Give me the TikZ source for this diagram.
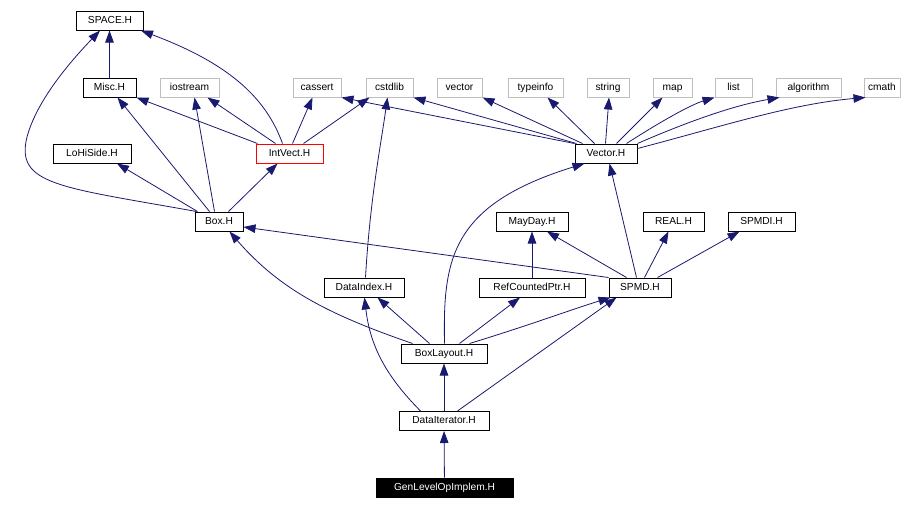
\documentclass[tikz,border=0pt]{standalone}
\usepackage{fontspec}
\setmainfont{Liberation Sans}
\usetikzlibrary{arrows.meta}
\definecolor{edgeblue}{HTML}{191970}
\definecolor{sysgray}{HTML}{BFBFBF}
\tikzset{
  hdr/.style={draw=black, line width=1pt, rectangle, inner sep=0pt, minimum height=19pt,
    font=\fontsize{10.2}{12}\selectfont, text height=7.5pt, text depth=2pt},
  sys/.style={hdr, draw=sysgray},
  cur/.style={hdr, draw=red},
  root/.style={hdr, fill=black, text=white},
  dep/.style={draw=edgeblue, line width=0.8pt, -{Triangle[length=12pt,width=8.5pt]}}
}
\begin{document}
\begin{tikzpicture}[x=1pt,y=-1pt]
\useasboundingbox (0,0) rectangle (912,509);
% nodes
\node[hdr, minimum width=67pt] (space) at (110,20.5) {SPACE.H};
\node[hdr, minimum width=53pt] (misc) at (109.5,87.5) {Misc.H};
\node[sys, minimum width=59pt] (iostream) at (189.5,87.5) {iostream};
\node[sys, minimum width=48pt] (cassert) at (317,87.5) {cassert};
\node[sys, minimum width=47pt] (cstdlib) at (389.5,87.5) {cstdlib};
\node[sys, minimum width=45pt] (vectorh) at (459.5,87.5) {vector};
\node[sys, minimum width=55pt] (typeinfo) at (535.5,87.5) {typeinfo};
\node[sys, minimum width=42pt] (string) at (608,87.5) {string};
\node[sys, minimum width=39pt] (map) at (672.5,87.5) {map};
\node[sys, minimum width=37pt] (list) at (733.5,87.5) {list};
\node[sys, minimum width=65pt] (algorithm) at (808.5,87.5) {algorithm};
\node[sys, minimum width=36pt] (cmath) at (882,87.5) {cmath};
\node[hdr, minimum width=78pt] (lohiside) at (92,153.5) {LoHiSide.H};
\node[cur, minimum width=67pt] (intvect) at (289.5,153.5) {IntVect.H};
\node[hdr, minimum width=62pt] (vector) at (606,153.5) {Vector.H};
\node[hdr, minimum width=48pt] (box) at (219,221.5) {Box.H};
\node[hdr, minimum width=72pt] (mayday) at (532,221.5) {MayDay.H};
\node[hdr, minimum width=61pt] (real) at (673.5,221.5) {REAL.H};
\node[hdr, minimum width=67pt] (spmdi) at (761.5,221.5) {SPMDI.H};
\node[hdr, minimum width=80pt] (dataindex) at (364,287.5) {DataIndex.H};
\node[hdr, minimum width=106pt] (refc) at (532,287.5) {RefCountedPtr.H};
\node[hdr, minimum width=62pt] (spmd) at (640,287.5) {SPMD.H};
\node[hdr, minimum width=86pt] (boxlayout) at (444,353.5) {BoxLayout.H};
\node[hdr, minimum width=90pt] (dataiter) at (444,421) {DataIterator.H};
\node[root, minimum width=137pt] (gen) at (444.5,487.5) {GenLevelOpImplem.H};
% edges
\draw[dep] (misc.north) -- (misc.north |- space.south);
\draw[dep] ([xshift=27pt]intvect.north west) .. controls (265,95) and (225,62) .. ([xshift=-3pt]space.south east);
\draw[dep] ([xshift=2pt]box.north west) .. controls (60,187) and (15,185) .. (27,137) .. controls (37,100) and (70,62) .. ([xshift=-10pt]space.south);
\draw[dep] ([xshift=2pt]intvect.north west) -- (misc.south east);
\draw[dep] ([xshift=20pt]intvect.north west) -- ([xshift=-12pt]iostream.south east);
\draw[dep] ([xshift=37pt]intvect.north west) -- ([xshift=20pt]cassert.south west);
\draw[dep] ([xshift=48pt]intvect.north west) -- ([xshift=4pt]cstdlib.south west);
\draw[dep] ([xshift=15pt]box.north west) -- ([xshift=8pt]misc.south);
\draw[dep] ([xshift=20pt]box.north west) -- ([xshift=5pt]iostream.south);
\draw[dep] ([xshift=3pt]box.north west) -- ([xshift=25pt]lohiside.south);
\draw[dep] ([xshift=34pt]box.north west) -- ([xshift=-12pt]intvect.south);
\draw[dep] (vector.north west) -- (cassert.south east);
\draw[dep] ([xshift=2pt]vector.north west) -- (cstdlib.south east);
\draw[dep] ([xshift=8pt]vector.north west) -- (vectorh.south east);
\draw[dep] ([xshift=20pt]vector.north west) -- ([xshift=-16pt]typeinfo.south east);
\draw[dep] ([xshift=31pt]vector.north west) -- ([xshift=1pt]string.south);
\draw[dep] ([xshift=42pt]vector.north west) -- ([xshift=-10pt]map.south);
\draw[dep] ([xshift=52pt]vector.north west) .. controls (660,122) and (690,105) .. (list.south west);
\draw[dep] (vector.north east) .. controls (680,125) and (730,106) .. ([xshift=4pt]algorithm.south west);
\draw[dep] ([yshift=5pt]vector.east) .. controls (720,127) and (790,104) .. ([xshift=2pt]cmath.south west);
\draw[dep] ([xshift=42pt]dataindex.north west) .. controls (370,200) and (380,150) .. ([xshift=22pt]cstdlib.south west);
\draw[dep] ([xshift=44pt]boxlayout.north west) .. controls (443,260) and (450,205) .. ([xshift=10pt]vector.south west);
\draw[dep] ([xshift=28pt]spmd.north west) -- ([xshift=35pt]vector.south west);
\draw[dep] (spmd.north west) -- ([yshift=-5.5pt]box.east);
\draw[dep] ([xshift=18pt]spmd.north west) -- ([xshift=15pt]mayday.south);
\draw[dep] ([xshift=36pt]spmd.north west) -- ([xshift=-5pt]real.south);
\draw[dep] ([xshift=49pt]spmd.north west) -- ([xshift=-22pt]spmdi.south);
\draw[dep] (refc) -- (mayday);
\draw[dep] ([xshift=12pt]boxlayout.north west) .. controls (330,315) and (280,290) .. ([xshift=35pt]box.south west);
\draw[dep] ([xshift=29pt]boxlayout.north west) -- ([xshift=-27pt]dataindex.south east);
\draw[dep] ([xshift=59pt]boxlayout.north west) -- ([xshift=-12pt]refc.south);
\draw[dep] ([xshift=69pt]boxlayout.north west) .. controls (530,325) and (570,310) .. ([xshift=2pt]spmd.south west);
\draw[dep] (dataiter) -- (boxlayout);
\draw[dep] ([xshift=22pt]dataiter.north west) .. controls (385,375) and (370,345) .. ([xshift=41pt]dataindex.south west);
\draw[dep] ([xshift=59pt]dataiter.north west) -- ([xshift=8pt]spmd.south west);
\draw[dep] (gen) -- (dataiter);
\end{tikzpicture}
\end{document}
